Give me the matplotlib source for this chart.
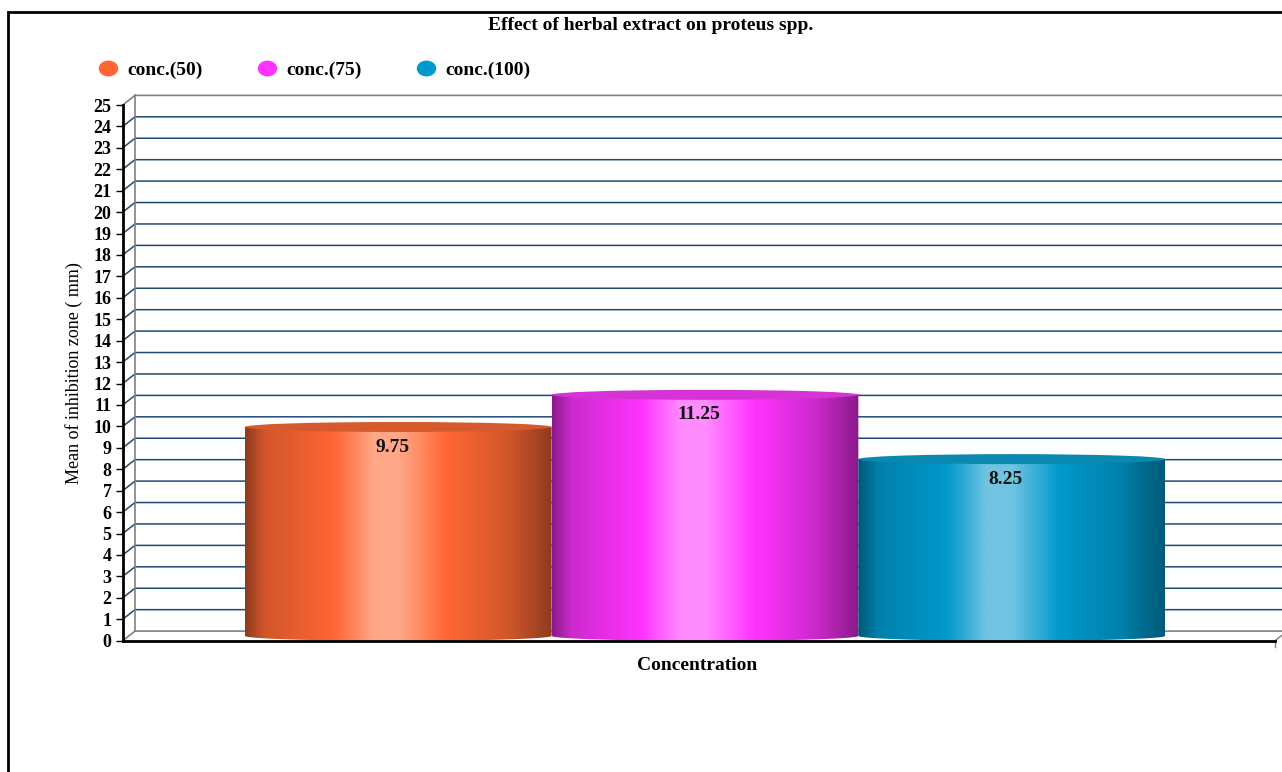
import numpy as np
import matplotlib
matplotlib.use("Agg")
import matplotlib.pyplot as plt
from matplotlib.patches import Ellipse, PathPatch, Rectangle
from matplotlib.path import Path
from matplotlib.lines import Line2D
from matplotlib.colors import LinearSegmentedColormap
import matplotlib.transforms as mtransforms

# data
series = ["conc.(50)", "conc.(75)", "conc.(100)"]
values = [9.75, 11.25, 8.25]
base_colors = ["#ff6633", "#ff33ff", "#0099cc"]
dark_colors = ["#8f3c1e", "#8c1a8c", "#005a78"]
mid_colors = ["#d2562b", "#cc2acc", "#0080aa"]
light_colors = ["#ffa888", "#ff8cff", "#70c4e2"]
top_colors = ["#d65a2e", "#d632d6", "#0a88b0"]
yticks = list(range(0, 26))

W, H = 1282, 772
plt.rcParams['font.family'] = ['Liberation Serif', 'DejaVu Serif']

fig = plt.figure(figsize=(W / 100, H / 100), dpi=100)
# plot area (front plane) in pixels
px_left, px_right, px_bot, px_top = 122.7, 1275, 640.7, 105
ax = fig.add_axes([px_left / W, (H - px_bot) / H,
                   (px_right - px_left) / W, (px_bot - px_top) / H])

half = 1.8786
xl, xr = -half, half
ymax = 25
# depth offsets in data units (12.3 px right, 9.6 px up)
dx = 12.3 / ((px_right - px_left) / (2 * half))
dy = 9.6 / ((px_bot - px_top) / ymax)
xfar = xr + 1.0

grid_c = "#1f4a78"
wall_c = "#808080"

# gridlines with the 3d wall offset
for y in yticks[1:-1]:
    ax.plot([xl, xl + dx, xfar], [y, y + dy, y + dy], color=grid_c, lw=1.1,
            zorder=1, clip_on=False)
ax.plot([xl, xl + dx, xfar], [ymax, ymax + dy, ymax + dy], color=wall_c, lw=1.2,
        zorder=1, clip_on=False)
ax.plot([xl + dx, xl + dx], [dy, ymax + dy], color=wall_c, lw=1.2, zorder=1, clip_on=False)
ax.plot([xl, xl + dx, xfar], [0, dy, dy], color=wall_c, lw=1.2, zorder=1, clip_on=False)
ax.plot([xr, xr + dx], [0, dy], color=wall_c, lw=1.0, zorder=1, clip_on=False)
ax.plot([xr, xr], [0, -0.3], color=wall_c, lw=1.0, zorder=1, clip_on=False)

# cylinders
positions = [-1, 0, 1]
ell_h = 2 * 5.0 / ((px_bot - px_top) / ymax)
for i, (pos, v) in enumerate(zip(positions, values)):
    cx = pos + dx / 2
    x0, x1 = cx - 0.5, cx + 0.5
    yb = dy / 2
    yt = v + dy / 2
    cmap = LinearSegmentedColormap.from_list(
        "c%d" % i,
        [(0.0, dark_colors[i]), (0.06, mid_colors[i]), (0.29, base_colors[i]),
         (0.42, light_colors[i]), (0.5, light_colors[i]), (0.66, base_colors[i]),
         (0.86, mid_colors[i]), (1.0, dark_colors[i])])
    grad = np.linspace(0, 1, 300).reshape(1, -1)
    im = ax.imshow(grad, cmap=cmap, extent=[x0, x1, yb - ell_h, yt], aspect='auto',
                   origin='lower', zorder=3, interpolation='bilinear')
    t = np.linspace(np.pi, 2 * np.pi, 60)
    bx = cx + 0.5 * np.cos(t)
    by = yb + ell_h / 2 * np.sin(t)
    verts = [(x0, yt)] + list(zip(bx, by)) + [(x1, yt), (x0, yt)]
    clip = PathPatch(Path(verts, closed=True), transform=ax.transData, fc='none', ec='none')
    ax.add_patch(clip)
    im.set_clip_path(clip)
    ax.add_patch(Ellipse((cx, yt), 1.0, ell_h, fc=top_colors[i], ec='none', zorder=4))
    ax.annotate("%g" % v, (pos, v), xytext=(0, -11), textcoords='offset points',
                ha='center', va='center', fontsize=14, fontweight='bold',
                color='#111111', zorder=5)

ax.set_xlim(xl, xr)
ax.set_ylim(0, ymax)
ax.set_yticks(yticks)
ax.set_yticklabels([str(t) for t in yticks], fontsize=13, fontweight='bold')
ax.tick_params(axis='y', direction='out', length=5, width=1, pad=3)
ax.set_xticks([])
for s in ["top", "right"]:
    ax.spines[s].set_visible(False)
ax.spines["left"].set_linewidth(2)
ax.spines["bottom"].set_linewidth(2)
ax.spines["left"].set_zorder(6)
ax.spines["bottom"].set_zorder(6)
ax.patch.set_visible(False)

ax.set_xlabel("Concentration", fontsize=14, fontweight='bold', va='top')
ax.xaxis.set_label_coords(0.4984, -0.031)
ax.set_ylabel("Mean of inhibition zone ( mm)", fontsize=13)
ax.yaxis.set_label_coords(-0.0346, 0.5)

fig.suptitle("Effect of herbal extract on proteus spp.", x=651 / W, y=1 - 26 / H,
             va='center', fontsize=14, fontweight='bold')

# legend with elliptical markers
ell = Path.unit_circle().transformed(mtransforms.Affine2D().scale(1.25, 1.0))
handles = [Line2D([], [], ls='none', marker=ell, markersize=13, color=c) for c in base_colors]
fig.legend(handles, series, loc='center left', bbox_to_anchor=(98.6 / W, 1 - 70 / H),
           ncol=3, frameon=False, handlelength=1.0, handletextpad=0.5,
           columnspacing=2.8, prop={'weight': 'bold', 'size': 14}, borderpad=0, borderaxespad=0)

# outer frame (left and top edges visible)
fig.add_artist(Rectangle((8 / W, -0.5), 2.0, 0.5 + (H - 12) / H, transform=fig.transFigure,
                         fill=False, ec='black', lw=2))

fig.savefig("out.png", dpi=100)
